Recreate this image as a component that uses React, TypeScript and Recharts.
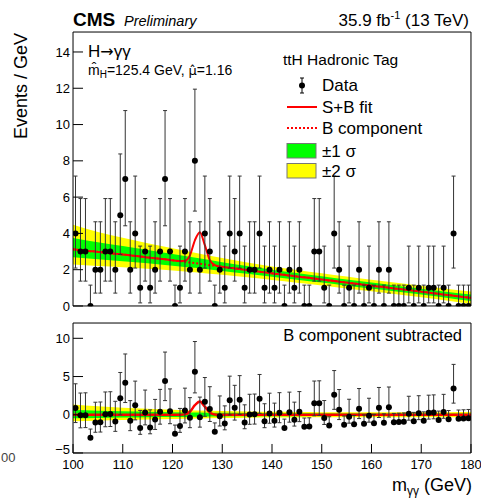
import { ComposedChart, XAxis, YAxis, Area, Line, Scatter, ErrorBar } from 'recharts'

const FONT = '"Liberation Sans", Arial, Helvetica, sans-serif'
const RED = '#ff0000'
const GREEN = '#00ff00'
const YELLOW = '#ffff00'

// 80 bins of 1 GeV between 100 and 180
const binCenters = Array.from({ length: 80 }, (_, i) => 100.5 + i)

const events = [
  4, 3, 3, 0, 2, 2, 3, 3, 2, 5, 7, 2, 4, 1, 3, 1, 2, 3, 7, 3,
  0, 1, 3, 2, 8, 2, 4, 3, 0, 2, 1, 4, 3, 4, 1, 2, 2, 4, 1, 2,
  1, 2, 0, 2, 1, 2, 0, 0, 3, 3, 1, 0, 4, 2, 0, 1, 0, 2, 0, 1,
  0, 2, 0, 2, 0, 0, 0, 1, 0, 1, 0, 1, 1, 0, 1, 0, 4, 0, 0, 0,
]

// background fit read at bin centres
const bkgAtBin = [
  3.11, 3.08, 3.05, 3.02, 3.0, 2.97, 2.94, 2.91, 2.88, 2.85,
  2.82, 2.79, 2.76, 2.73, 2.69, 2.66, 2.63, 2.6, 2.57, 2.54,
  2.5, 2.47, 2.44, 2.4, 2.37, 2.33, 2.29, 2.25, 2.22, 2.18,
  2.14, 2.11, 2.07, 2.04, 2.0, 1.96, 1.93, 1.89, 1.86, 1.82,
  1.78, 1.75, 1.72, 1.68, 1.65, 1.61, 1.58, 1.55, 1.51, 1.48,
  1.44, 1.41, 1.38, 1.34, 1.31, 1.27, 1.24, 1.21, 1.17, 1.14,
  1.1, 1.07, 1.04, 1.01, 0.97, 0.94, 0.91, 0.88, 0.84, 0.81,
  0.77, 0.74, 0.7, 0.67, 0.63, 0.6, 0.57, 0.53, 0.5, 0.46,
]

// signal part of the S+B fit at bin centres
const sigAtBin = [
  0, 0, 0, 0, 0, 0, 0, 0, 0, 0, 0, 0, 0, 0, 0, 0, 0, 0, 0, 0,
  0, 0.005, 0.05, 0.39, 1.25, 1.74, 1.06, 0.28, 0.03, 0,
  0, 0, 0, 0, 0, 0, 0, 0, 0, 0,
  0, 0, 0, 0, 0, 0, 0, 0, 0, 0, 0, 0, 0, 0, 0, 0, 0, 0, 0, 0,
  0, 0, 0, 0, 0, 0, 0, 0, 0, 0, 0, 0, 0, 0, 0, 0, 0, 0, 0, 0,
]

// Poisson (Garwood) intervals, indexed by count
const poissonLo = [0, 0.83, 1.29, 1.63, 1.91, 2.16, 2.38, 2.58, 2.77]
const poissonHi = [1.15, 2.3, 2.64, 2.92, 3.16, 3.38, 3.58, 3.77, 3.95]

// uncertainty bands on the background
const bandMass = [100, 105, 110, 115, 120, 125, 130, 135, 140, 145, 150, 155, 160, 165, 170, 175, 180]
const bandBkg = [3.13, 2.98, 2.84, 2.68, 2.52, 2.35, 2.16, 1.98, 1.8, 1.63, 1.46, 1.29, 1.12, 0.96, 0.79, 0.62, 0.45]
const up2 = [1.35, 1.1, 0.92, 0.78, 0.66, 0.56, 0.48, 0.42, 0.38, 0.36, 0.34, 0.33, 0.32, 0.32, 0.32, 0.33, 0.35]
const dn2 = [0.85, 0.78, 0.7, 0.63, 0.56, 0.5, 0.44, 0.4, 0.37, 0.35, 0.33, 0.32, 0.31, 0.31, 0.31, 0.32, 0.34]
const up1 = [0.62, 0.53, 0.46, 0.4, 0.34, 0.29, 0.25, 0.22, 0.2, 0.19, 0.18, 0.17, 0.17, 0.16, 0.16, 0.17, 0.18]
const dn1 = [0.45, 0.41, 0.37, 0.33, 0.3, 0.26, 0.23, 0.21, 0.19, 0.18, 0.17, 0.17, 0.16, 0.16, 0.16, 0.17, 0.18]

const massTicks = [100, 110, 120, 130, 140, 150, 160, 170, 180]
const topYTicks = [0, 2, 4, 6, 8, 10, 12, 14]
const lowYTicks = [-5, 0, 5, 10]

const massMinor = Array.from({ length: 41 }, (_, i) => 100 + 2 * i)
const topYMinor = Array.from({ length: 38 }, (_, i) => +(i * 0.4).toFixed(1))
const lowYMinor = Array.from({ length: 18 }, (_, i) => i - 5)

const points = binCenters.map((m, i) => ({
  m,
  y: events[i],
  err: [poissonLo[events[i]], poissonHi[events[i]]],
}))

const residuals = binCenters.map((m, i) => ({
  m,
  y: +(events[i] - bkgAtBin[i]).toFixed(3),
  err: [poissonLo[events[i]], poissonHi[events[i]]],
}))

const curve = [
  { m: 100, b: bandBkg[0], s: 0 },
  ...binCenters.map((m, i) => ({ m, b: bkgAtBin[i], s: sigAtBin[i] })),
  { m: 180, b: bandBkg[bandBkg.length - 1], s: 0 },
].map((r) => ({ ...r, sb: r.b + r.s }))

const bands = bandMass.map((m, i) => ({
  m,
  y2: [bandBkg[i] - dn2[i], bandBkg[i] + up2[i]],
  y1: [bandBkg[i] - dn1[i], bandBkg[i] + up1[i]],
  r2: [-dn2[i], up2[i]],
  r1: [-dn1[i], up1[i]],
}))

const tickText = { fontSize: 13, fill: '#000', fontFamily: FONT }
const black = { stroke: '#000' }
const minus = (v: number) => String(v).replace('-', '\u2212')
// axes need a non-zero size to be drawn; keep it tiny so they sit on the frame
const T = 0.01

// y labels; the lowest one of the ratio panel sits a little higher, as in ROOT
function YTick(props: any) {
  const { x, y, payload } = props
  const lift = payload.value === -5 ? 4 : 0
  return (
    <text x={x} y={y - lift} dy="0.355em" textAnchor="end" {...tickText}>
      {minus(payload.value)}
    </text>
  )
}

function frameAxes(yDomain: number[], yMajor: number[], yMinor: number[], xLabels: boolean) {
  return [
    <XAxis key="x" xAxisId="x" dataKey="m" type="number" domain={[100, 180]} ticks={massTicks} interval={0}
      height={T} tickSize={-9} tickMargin={16} tick={xLabels ? tickText : false} axisLine={black} tickLine={black} allowDataOverflow />,
    <XAxis key="xm" xAxisId="xm" type="number" domain={[100, 180]} ticks={massMinor} interval={0}
      height={T} tickSize={-5} tick={false} axisLine={false} tickLine={black} allowDataOverflow />,
    <XAxis key="xt" xAxisId="xt" orientation="top" type="number" domain={[100, 180]} ticks={massTicks} interval={0}
      height={T} tickSize={-9} tick={false} axisLine={black} tickLine={black} allowDataOverflow />,
    <XAxis key="xtm" xAxisId="xtm" orientation="top" type="number" domain={[100, 180]} ticks={massMinor} interval={0}
      height={T} tickSize={-5} tick={false} axisLine={false} tickLine={black} allowDataOverflow />,
    <YAxis key="y" yAxisId="y" type="number" domain={yDomain} ticks={yMajor} interval={0}
      width={T} tickSize={-10} tickMargin={13} tick={<YTick />} axisLine={black} tickLine={black} allowDataOverflow />,
    <YAxis key="ym" yAxisId="ym" type="number" domain={yDomain} ticks={yMinor} interval={0}
      width={T} tickSize={-5} tick={false} axisLine={false} tickLine={black} allowDataOverflow />,
    <YAxis key="yr" yAxisId="yr" orientation="right" type="number" domain={yDomain} ticks={yMajor} interval={0}
      width={T} tickSize={-10} tick={false} axisLine={black} tickLine={black} allowDataOverflow />,
    <YAxis key="yrm" yAxisId="yrm" orientation="right" type="number" domain={yDomain} ticks={yMinor} interval={0}
      width={T} tickSize={-5} tick={false} axisLine={false} tickLine={black} allowDataOverflow />,
  ]
}

const dot = (p: any) => <circle cx={p.cx} cy={p.cy} r={3} fill="#000" />

function TopPanel() {
  return (
    <ComposedChart width={481} height={320} margin={{ top: 32, right: 10, bottom: 14, left: 73 }}>
      {frameAxes([0, 15.1], topYTicks, topYMinor, false)}
      <Area data={bands} xAxisId="x" yAxisId="y" dataKey="y2" type="monotone" stroke="none" fill={YELLOW} fillOpacity={1} isAnimationActive={false} />
      <Area data={bands} xAxisId="x" yAxisId="y" dataKey="y1" type="monotone" stroke="none" fill={GREEN} fillOpacity={1} isAnimationActive={false} />
      <Line data={curve} xAxisId="x" yAxisId="y" dataKey="b" type="monotone" stroke={RED} strokeWidth={2} strokeDasharray="2 2" dot={false} isAnimationActive={false} />
      <Line data={curve} xAxisId="x" yAxisId="y" dataKey="sb" type="monotone" stroke={RED} strokeWidth={2} dot={false} isAnimationActive={false} />
      <Scatter data={points} xAxisId="x" yAxisId="y" dataKey="y" shape={dot} isAnimationActive={false}>
        <ErrorBar dataKey="err" direction="y" width={2} stroke="#333" strokeWidth={1} />
      </Scatter>
    </ComposedChart>
  )
}

function BottomPanel() {
  return (
    <ComposedChart width={481} height={188} margin={{ top: 13, right: 10, bottom: 45, left: 73 }}>
      {frameAxes([-5, 12], lowYTicks, lowYMinor, true)}
      <Area data={bands} xAxisId="x" yAxisId="y" dataKey="r2" type="monotone" stroke="none" fill={YELLOW} fillOpacity={1} isAnimationActive={false} />
      <Area data={bands} xAxisId="x" yAxisId="y" dataKey="r1" type="monotone" stroke="none" fill={GREEN} fillOpacity={1} isAnimationActive={false} />
      <Line data={curve} xAxisId="x" yAxisId="y" dataKey="s" type="monotone" stroke={RED} strokeWidth={2.5} dot={false} isAnimationActive={false} />
      <Scatter data={residuals} xAxisId="x" yAxisId="y" dataKey="y" shape={dot} isAnimationActive={false}>
        <ErrorBar dataKey="err" direction="y" width={2} stroke="#333" strokeWidth={1} />
      </Scatter>
    </ComposedChart>
  )
}

function Labels() {
  const entry = { fontSize: 17 }
  return (
    <svg width={481} height={498} style={{ position: 'absolute', left: 0, top: 0, pointerEvents: 'none' }} fontFamily={FONT}>
      <text x={73} y={26} fontSize={19} fontWeight="bold">CMS</text>
      <text x={124} y={26} fontSize={14.5} fontStyle="italic">Preliminary</text>
      <text x={469} y={26} fontSize={17} textAnchor="end">
        35.9 fb<tspan dy={-7} fontSize={11}>-1</tspan><tspan dy={7}> (13 TeV)</tspan>
      </text>

      <text x={88} y={57} fontSize={17}>
        H<tspan fontFamily="DejaVu Sans" fontSize={16}>→</tspan>γγ
      </text>
      <text x={88} y={75} fontSize={14}>
        m̂<tspan dy={3} fontSize={10}>H</tspan><tspan dy={-3}>=125.4 GeV, </tspan><tspan fontFamily="DejaVu Sans" fontSize={13}>μ̂</tspan>=1.16
      </text>

      <text x={283} y={65} fontSize={15.5}>ttH Hadronic Tag</text>
      <line x1={302} x2={302} y1={78} y2={93} stroke="#000" />
      <line x1={300} x2={304} y1={78} y2={78} stroke="#000" />
      <line x1={300} x2={304} y1={93} y2={93} stroke="#000" />
      <circle cx={302} cy={85.5} r={3} fill="#000" />
      <text x={322} y={91} {...entry}>Data</text>
      <line x1={287} x2={317} y1={107} y2={107} stroke={RED} strokeWidth={2} />
      <text x={322} y={113} {...entry}>S+B fit</text>
      <line x1={287} x2={317} y1={128} y2={128} stroke={RED} strokeWidth={2} strokeDasharray="2 2" />
      <text x={322} y={134} {...entry}>B component</text>
      <rect x={287} y={143.5} width={29} height={14.5} fill={GREEN} stroke="#777" />
      <text x={322} y={157} {...entry}>±1 σ</text>
      <rect x={287} y={163.5} width={29} height={14.5} fill={YELLOW} stroke="#777" />
      <text x={322} y={177} {...entry}>±2 σ</text>

      <text x={462} y={341} fontSize={16.5} textAnchor="end">B component subtracted</text>

      <text x={472} y={491} fontSize={18} textAnchor="end">
        m<tspan dy={4} fontSize={12}>γγ</tspan><tspan dy={-4}> (GeV)</tspan>
      </text>
      <text transform="translate(27,86) rotate(-90)" fontSize={18} textAnchor="middle">Events / GeV</text>
      <text x={1} y={462} fontSize={13} fill="#444">00</text>
    </svg>
  )
}

export default function App() {
  return (
    <div style={{ position: 'fixed', left: 0, top: 0, width: 481, height: 498, background: '#fff' }}>
      <div style={{ position: 'absolute', left: 0, top: 0 }}>
        <TopPanel />
      </div>
      <div style={{ position: 'absolute', left: 0, top: 310 }}>
        <BottomPanel />
      </div>
      <Labels />
    </div>
  )
}
